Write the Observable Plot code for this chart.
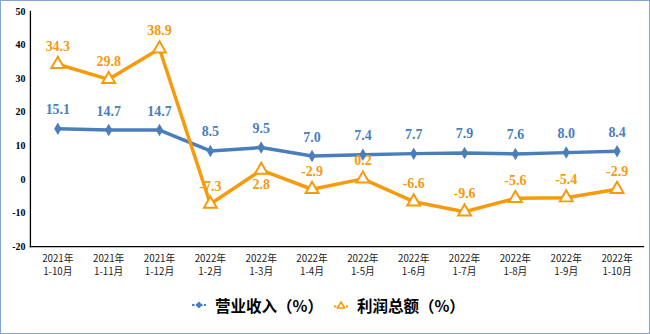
<!DOCTYPE html>
<html>
<head>
<meta charset="utf-8">
<script src="https://cdn.jsdelivr.net/npm/d3@7"></script>
<script src="https://cdn.jsdelivr.net/npm/@observablehq/plot@0.6"></script>
<style>
  html, body { margin: 0; padding: 0; background: #fff; }
  #wrap { position: relative; width: 650px; height: 334px; box-sizing: border-box; border: 1px solid #86a5d6; overflow: hidden; background:#fff; }
  #chart svg { display: block; position: absolute; left: -1px; top: -1px; }
  #legend { position: absolute; left: 191px; top: 293px; display: flex; align-items: center; font-family: "Noto Sans CJK SC", sans-serif; font-weight: bold; font-size: 15.5px; color: #000; }
  .item { display: flex; align-items: center; }
  .item svg { margin-right: 9px; }
</style>
</head>
<body>
<div id="wrap">
  <div id="chart"></div>
  <div id="legend"></div>
</div>
<script>
const years = ["2021年","2021年","2021年","2022年","2022年","2022年","2022年","2022年","2022年","2022年","2022年","2022年"];
const months = ["1-10月","1-11月","1-12月","1-2月","1-3月","1-4月","1-5月","1-6月","1-7月","1-8月","1-9月","1-10月"];
const revenue = [15.1, 14.7, 14.7, 8.5, 9.5, 7.0, 7.4, 7.7, 7.9, 7.6, 8.0, 8.4];
const profit = [34.3, 29.8, 38.9, -7.3, 2.8, -2.9, 0.2, -6.6, -9.6, -5.6, -5.4, -2.9];
const profitLabelBelow = [false, false, false, false, true, false, false, false, false, false, false, false];
const seriesNames = ["营业收入（%）", "利润总额（%）"];
const yTicks = [-20, -10, 0, 10, 20, 30, 40, 50];

const blue = "#4a7ebb";
const orange = "#f79a0b";

const categories = years.map((y, i) => y + " " + months[i]);
const revData = categories.map((c, i) => ({cat: c, v: revenue[i]}));
const proData = categories.map((c, i) => ({cat: c, v: profit[i], below: profitLabelBelow[i]}));

const serif = "'Liberation Serif', 'Times New Roman', serif";
const cjk = "'Noto Sans CJK SC', sans-serif";

const chart = Plot.plot({
  width: 650,
  height: 290,
  marginLeft: 30,
  marginRight: 5,
  marginTop: 11,
  marginBottom: 43,
  style: {background: "transparent", overflow: "visible"},
  x: {type: "band", domain: categories, padding: 0},
  y: {domain: [-20, 50]},
  marks: [
    Plot.axisY({ticks: yTicks, tickSize: 0, tickPadding: 5, fontFamily: serif, fontWeight: "bold", fontSize: 10, tickFormat: d => d, label: null, fill: "#000"}),
    Plot.axisX({tickSize: 0, tickPadding: 8, fontFamily: cjk, fontSize: 9.8, tickFormat: (d, i) => years[i], label: null, fill: "#222"}),
    Plot.axisX({tickSize: 0, tickPadding: 21.5, fontFamily: cjk, fontSize: 9.8, tickFormat: (d, i) => months[i], label: null, fill: "#222"}),
    Plot.frame({anchor: "left", stroke: "#000", strokeWidth: 1.3}),
    Plot.frame({anchor: "bottom", stroke: "#000", strokeWidth: 1.3}),
    Plot.line(revData, {x: "cat", y: "v", stroke: blue, strokeWidth: 3.5}),
    Plot.dot(revData, {x: "cat", y: "v", symbol: "diamond", fill: blue, r: 3.8}),
    Plot.line(proData, {x: "cat", y: "v", stroke: orange, strokeWidth: 3.5}),
    Plot.dot(proData, {x: "cat", y: "v", symbol: "triangle", stroke: orange, fill: "#fff", strokeWidth: 2, r: 4.8}),
    Plot.text(revData, {x: "cat", y: "v", text: d => d.v.toFixed(1), dy: -19, fill: blue, fontFamily: serif, fontWeight: "bold", fontSize: 14}),
    Plot.text(proData.filter(d => !d.below), {x: "cat", y: "v", text: d => d.v.toFixed(1), dy: -18, fill: orange, fontFamily: serif, fontWeight: "bold", fontSize: 14}),
    Plot.text(proData.filter(d => d.below), {x: "cat", y: "v", text: d => d.v.toFixed(1), dy: 14, fill: orange, fontFamily: serif, fontWeight: "bold", fontSize: 14})
  ]
});
document.getElementById("chart").appendChild(chart);

const legend = document.getElementById("legend");
const markers = [
  `<svg width="14" height="10"><line x1="0" y1="5" x2="14" y2="5" stroke="${blue}" stroke-width="2" stroke-dasharray="2.5,1.5"/><path d="M7 1.5 L10.5 5 L7 8.5 L3.5 5 Z" fill="${blue}"/></svg>`,
  `<svg width="14" height="10"><line x1="0" y1="6.5" x2="14" y2="6.5" stroke="${orange}" stroke-width="2" stroke-dasharray="2.5,1.5"/><path d="M7 2 L10.5 8 L3.5 8 Z" fill="#fff" stroke="${orange}" stroke-width="1.5"/></svg>`
];
seriesNames.forEach((n, i) => {
  const el = document.createElement("div");
  el.className = "item";
  el.style.marginRight = i === 0 ? "11px" : "0";
  el.innerHTML = markers[i] + `<span>${n}</span>`;
  legend.appendChild(el);
});
</script>
</body>
</html>
